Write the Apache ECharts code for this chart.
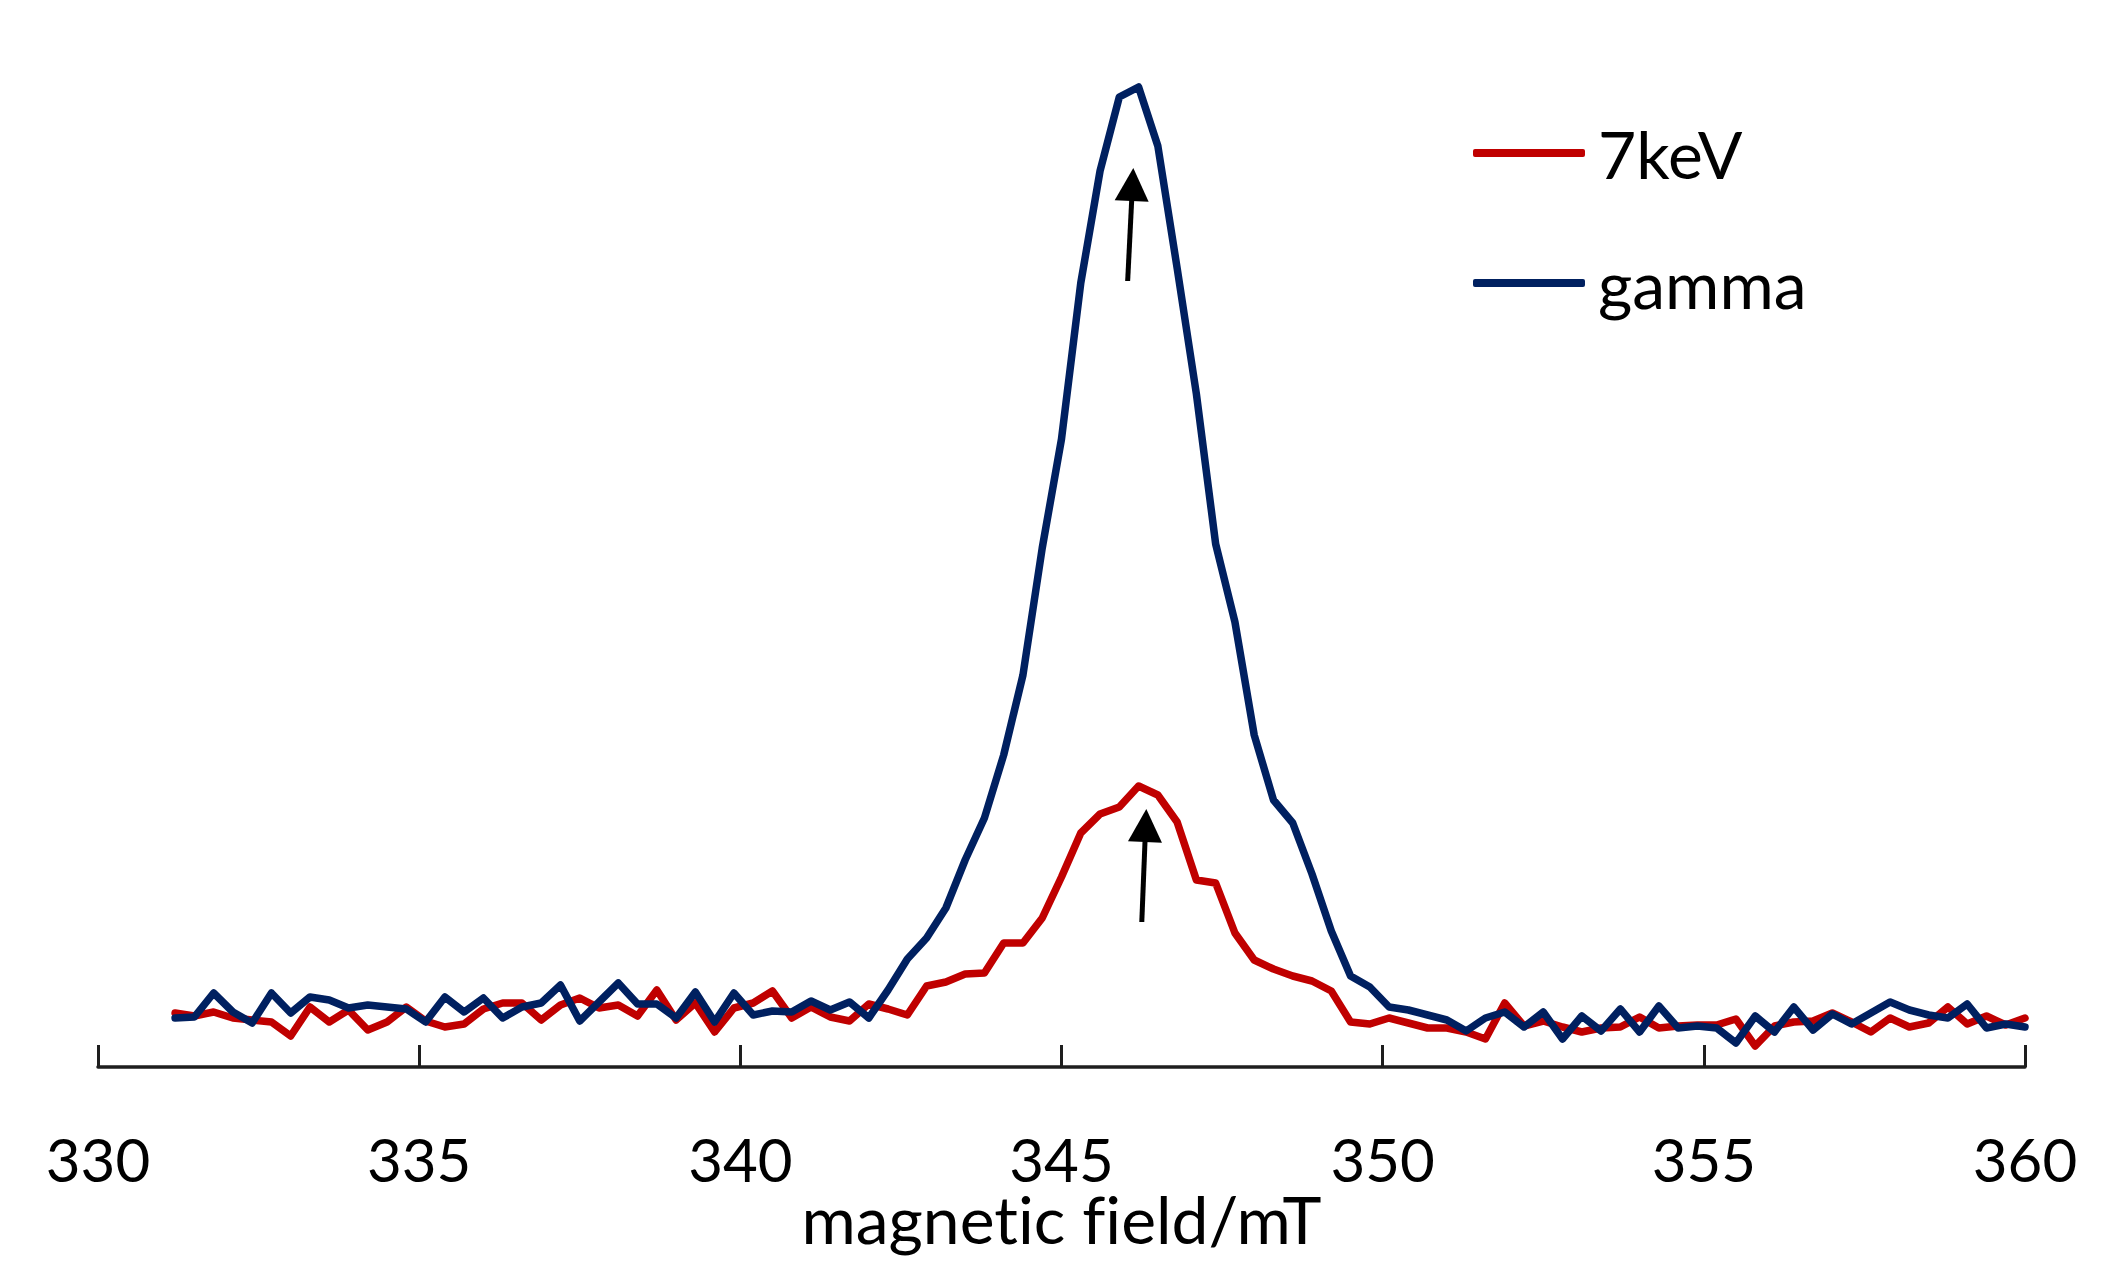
<!DOCTYPE html>
<html>
<head>
<meta charset="utf-8">
<script src="https://cdn.jsdelivr.net/npm/echarts@6/dist/echarts.min.js"></script>
<style>
html,body{margin:0;padding:0;background:#fff;}
#chart{width:2115px;height:1269px;}
#chart text{font-variant-ligatures:none;font-feature-settings:"liga" 0, "clig" 0;}
</style>
</head>
<body>
<div id="chart"></div>
<script>
// magnetic field (mT), sampling points
const field = [
  331.2,331.5,331.8,332.1,332.4,332.7,333.0,333.3,333.6,333.9,
  334.2,334.5,334.8,335.1,335.4,335.7,336.0,336.3,336.6,336.9,
  337.2,337.5,337.8,338.1,338.4,338.7,339.0,339.3,339.6,339.9,
  340.2,340.5,340.8,341.1,341.4,341.7,342.0,342.3,342.6,342.9,
  343.2,343.5,343.8,344.1,344.4,344.7,345.0,345.3,345.6,345.9,
  346.2,346.5,346.8,347.1,347.4,347.7,348.0,348.3,348.6,348.9,
  349.2,349.5,349.8,350.1,350.4,350.7,351.0,351.3,351.6,351.9,
  352.2,352.5,352.8,353.1,353.4,353.7,354.0,354.3,354.6,354.9,
  355.2,355.5,355.8,356.1,356.4,356.7,357.0,357.3,357.6,357.9,
  358.2,358.5,358.8,359.1,359.4,359.7,360.0
];
// signal intensity (a.u.), 7keV
const signal7keV = [
  54,51,55,49,47,45,31,60,45,57,
  37,45,60,46,40,43,58,64,64,47,
  62,69,59,62,51,77,47,64,35,59,
  64,76,49,60,50,46,63,58,52,81,
  85,93,94,124,124,149,190,234,253,260,
  281,272,245,187,184,134,107,98,91,86,
  76,45,43,49,44,39,39,35,28,64,
  41,46,40,35,39,40,50,39,41,42,
  42,48,21,41,45,46,54,45,35,49,
  40,44,60,43,51,42,49
];
// signal intensity (a.u.), gamma
const signalGamma = [
  49,50,74,55,44,74,54,70,67,59,
  62,60,58,45,70,55,69,49,60,64,
  82,46,65,84,63,63,49,75,45,74,
  52,56,55,66,57,65,49,77,108,129,
  159,207,249,312,392,519,628,784,896,970,
  980,921,799,673,523,445,332,267,244,193,
  136,91,80,60,57,52,47,36,49,55,
  40,55,28,51,36,58,35,61,39,41,
  39,24,51,35,60,37,53,43,54,65,
  57,52,49,63,39,43,40
];
const seriesNames = ['7keV', 'gamma'];
const seriesColors = ['#C00000', '#002060'];
const xTickValues = [330, 335, 340, 345, 350, 355, 360];
// peak-marking arrows: [field start, intensity start, field end, intensity end]
const arrowAnnotations = [
  [346.03, 786, 346.105, 882.5],
  [346.25, 145, 346.31, 241.5]
];

const font = 'Lato, "Noto Sans", sans-serif';
const toPairs = (xs, ys) => xs.map((x, i) => [x, ys[i]]);

const chart = echarts.init(document.getElementById('chart'), null, {renderer: 'svg'});
chart.setOption({
  animation: false,
  backgroundColor: '#ffffff',
  grid: {left: 98, right: 90, top: 0, bottom: 202, containLabel: false},
  legend: {
    data: seriesNames,
    orient: 'vertical',
    left: 1473,
    top: 120,
    padding: 0,
    itemGap: 64,
    itemWidth: 112,
    itemHeight: 8,
    icon: 'roundRect',
    textStyle: {fontFamily: font, fontSize: 66, lineHeight: 65, color: '#000', padding: [0, 0, 0, 8]}
  },
  xAxis: {
    type: 'value',
    min: 330,
    max: 360,
    interval: 5,
    axisLine: {show: true, onZero: false, lineStyle: {color: '#1e1e1e', width: 3.5}},
    axisTick: {show: true, inside: true, length: 22, lineStyle: {color: '#1e1e1e', width: 3}},
    axisLabel: {
      fontFamily: font, fontSize: 60, lineHeight: 48, color: '#000', margin: 68,
      formatter: v => (xTickValues.indexOf(v) >= 0 ? String(v) : '')
    },
    splitLine: {show: false},
    name: 'magnetic field/mT',
    nameLocation: 'middle',
    nameMoveOverlap: false,
    nameGap: 125,
    nameTextStyle: {fontFamily: font, fontSize: 66, lineHeight: 52, color: '#000'}
  },
  yAxis: {type: 'value', min: 0, max: 1067, show: false},
  series: [
    {
      name: seriesNames[0],
      type: 'line',
      data: toPairs(field, signal7keV),
      color: seriesColors[0],
      symbol: 'none',
      lineStyle: {width: 7.5, color: seriesColors[0], join: 'round', cap: 'round'}
    },
    {
      name: seriesNames[1],
      type: 'line',
      data: toPairs(field, signalGamma),
      color: seriesColors[1],
      symbol: 'none',
      lineStyle: {width: 7.5, color: seriesColors[1], join: 'round', cap: 'round'},
      markLine: {
        silent: true,
        animation: false,
        symbol: ['none', 'triangle'],
        symbolSize: [34, 33],
        label: {show: false},
        emphasis: {disabled: true},
        lineStyle: {color: '#000', width: 5, type: 'solid'},
        data: arrowAnnotations.map(a => [{coord: [a[0], a[1]]}, {coord: [a[2], a[3]]}])
      }
    }
  ]
});
</script>
</body>
</html>
